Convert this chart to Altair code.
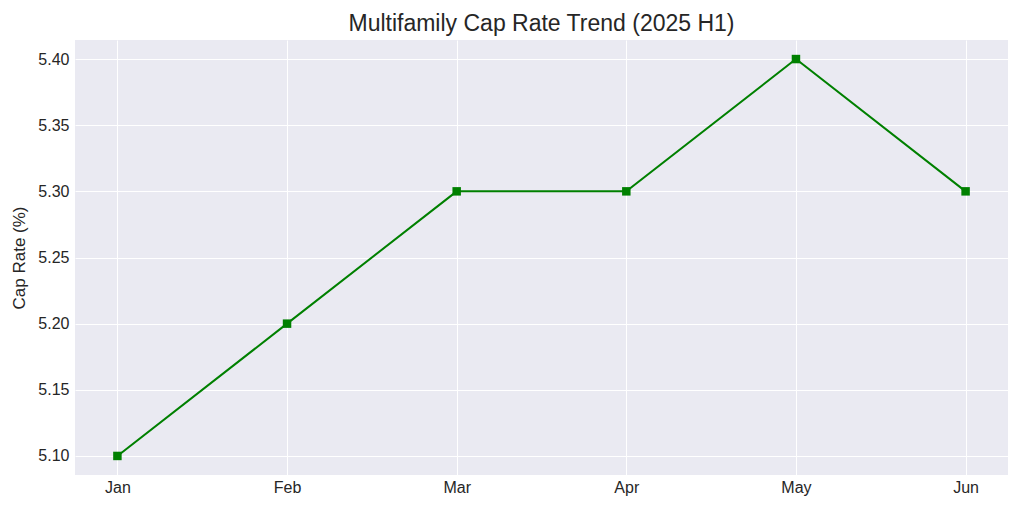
import altair as alt
import pandas as pd

months = ["Jan", "Feb", "Mar", "Apr", "May", "Jun"]
cap_rate = [5.10, 5.20, 5.30, 5.30, 5.40, 5.30]
y_ticks = [5.10, 5.15, 5.20, 5.25, 5.30, 5.35, 5.40]

df = pd.DataFrame({"Month": months, "CapRate": cap_rate})

FONT = "Liberation Sans"

x = alt.X("Month:N", sort=months, title=None,
          scale=alt.Scale(type="point", padding=0.25),
          axis=alt.Axis(labelAngle=0, labelFontSize=16, labelColor="#262626",
                        labelFont=FONT, domain=False, ticks=False, labelPadding=4,
                        grid=True, gridColor="white", gridWidth=1))
y = alt.Y("CapRate:Q", title="Cap Rate (%)",
          scale=alt.Scale(domain=[5.0856, 5.4144], nice=False, zero=False),
          axis=alt.Axis(values=y_ticks, format=".2f", labelFontSize=16,
                        labelColor="#262626", labelFont=FONT, domain=False,
                        ticks=False, labelPadding=6, titleFontSize=17,
                        titleFont=FONT, titleColor="#262626", titleFontWeight="normal",
                        titlePadding=9, grid=True, gridColor="white", gridWidth=1))

line = alt.Chart(df).mark_line(color="#008000", strokeWidth=2).encode(x=x, y=y)
pts = alt.Chart(df).mark_point(shape="square", filled=True, size=72, opacity=1,
                               color="#008000").encode(x=x, y=y)

chart = (line + pts).properties(
    width=933, height=435,
    title=alt.TitleParams("Multifamily Cap Rate Trend (2025 H1)", fontSize=23,
                          font=FONT, fontWeight="normal", color="#262626",
                          anchor="middle", offset=4),
    autosize=alt.AutoSizeParams(type="none"),
    padding={"left": 67, "top": 32, "right": 8, "bottom": 29},
).configure_view(fill="#EAEAF2", stroke=None)

chart.save("out.html", embed_options={"renderer": "svg", "actions": False})
